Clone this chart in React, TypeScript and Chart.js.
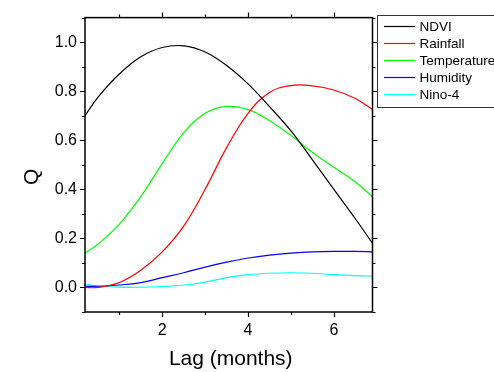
import { useEffect, useRef } from "react";
import { Chart, registerables } from "chart.js";

Chart.register(...registerables);

const LAGS = [0.2, 0.5, 1, 1.5, 2, 2.5, 3, 3.5, 4, 4.5, 5, 5.5, 6, 6.5, 6.9];
const NDVI = [0.7, 0.775, 0.87, 0.94, 0.978, 0.985, 0.96, 0.905, 0.83, 0.737, 0.638, 0.52, 0.4, 0.28, 0.18];
const RAINFALL = [0.0, 0.0, 0.02, 0.07, 0.145, 0.25, 0.4, 0.57, 0.71, 0.795, 0.823, 0.822, 0.805, 0.77, 0.725];
const TEMPERATURE = [0.14, 0.176, 0.258, 0.37, 0.505, 0.63, 0.71, 0.738, 0.725, 0.68, 0.62, 0.55, 0.49, 0.43, 0.37];
const HUMIDITY = [0.005, 0.005, 0.01, 0.02, 0.04, 0.06, 0.083, 0.103, 0.12, 0.132, 0.14, 0.145, 0.147, 0.147, 0.145];
const NINO4 = [0.012, 0.006, 0.001, 0.001, 0.004, 0.01, 0.022, 0.04, 0.052, 0.058, 0.06, 0.058, 0.052, 0.048, 0.046];

const SERIES_NAMES = ["NDVI", "Rainfall", "Temperature", "Humidity", "Nino-4"];
const SERIES_VALUES = [NDVI, RAINFALL, TEMPERATURE, HUMIDITY, NINO4];
const SERIES_COLORS = ["#000000", "#FF0000", "#00FF00", "#0000FF", "#00FFFF"];

const X_TICKS = [2, 4, 6];
const X_MINOR = [1, 3, 5];
const Y_TICKS = [0, 0.2, 0.4, 0.6, 0.8, 1.0];
const Y_MINOR = [-0.1, 0.1, 0.3, 0.5, 0.7, 0.9, 1.1];
const X_TITLE = "Lag (months)";
const Y_TITLE = "Q";

const FONT = "Arial, 'Liberation Sans', sans-serif";

const framePlugin = {
  id: "frame",
  afterDraw(chart: any) {
    const ctx = chart.ctx;
    const { left, right, top, bottom } = chart.chartArea;
    const xs = chart.scales.x;
    const ys = chart.scales.y;
    ctx.save();
    ctx.strokeStyle = "#000";
    ctx.lineWidth = 1.5;
    ctx.strokeRect(left, top, right - left, bottom - top);
    ctx.lineWidth = 1.2;
    ctx.beginPath();
    const major = 5;
    const minor = 3;
    X_TICKS.forEach((v) => {
      const p = Math.round(xs.getPixelForValue(v)) + 0.5;
      ctx.moveTo(p, bottom); ctx.lineTo(p, bottom + major);
      ctx.moveTo(p, top); ctx.lineTo(p, top - major);
    });
    X_MINOR.forEach((v) => {
      const p = Math.round(xs.getPixelForValue(v)) + 0.5;
      ctx.moveTo(p, bottom); ctx.lineTo(p, bottom + minor);
      ctx.moveTo(p, top); ctx.lineTo(p, top - minor);
    });
    Y_TICKS.forEach((v) => {
      const p = Math.round(ys.getPixelForValue(v)) + 0.5;
      ctx.moveTo(left, p); ctx.lineTo(left - major, p);
      ctx.moveTo(right, p); ctx.lineTo(right + major, p);
    });
    Y_MINOR.forEach((v) => {
      const p = Math.round(ys.getPixelForValue(v)) + 0.5;
      ctx.moveTo(left, p); ctx.lineTo(left - minor, p);
      ctx.moveTo(right, p); ctx.lineTo(right + minor, p);
    });
    ctx.stroke();

    // axis titles
    ctx.fillStyle = "#000";
    ctx.font = `21px ${FONT}`;
    ctx.textAlign = "center";
    ctx.textBaseline = "alphabetic";
    ctx.fillText(X_TITLE, (left + right) / 2 + 2, 365);
    ctx.save();
    ctx.translate(38, (top + bottom) / 2 + 12);
    ctx.rotate(-Math.PI / 2);
    ctx.textBaseline = "alphabetic";
    ctx.fillText(Y_TITLE, 0, 0);
    ctx.restore();

    // legend
    const lx = 377.5;
    const ly = 15.5;
    ctx.lineWidth = 1;
    ctx.strokeStyle = "#333";
    ctx.beginPath();
    ctx.moveTo(lx + 200, ly);
    ctx.lineTo(lx, ly);
    ctx.lineTo(lx, ly + 92);
    ctx.lineTo(lx + 200, ly + 92);
    ctx.stroke();
    ctx.font = `13.5px ${FONT}`;
    ctx.textAlign = "left";
    ctx.textBaseline = "middle";
    chart.data.datasets.forEach((ds: any, i: number) => {
      const y = 26.5 + i * 17;
      ctx.strokeStyle = ds.borderColor;
      ctx.lineWidth = 1.2;
      ctx.beginPath();
      ctx.moveTo(384, y);
      ctx.lineTo(415, y);
      ctx.stroke();
      ctx.fillStyle = "#000";
      ctx.fillText(ds.label, 419.5, y + 1);
    });
    ctx.restore();
  },
};

export default function App() {
  const ref = useRef<HTMLCanvasElement | null>(null);
  useEffect(() => {
    if (!ref.current) return;
    const datasets = SERIES_NAMES.map((name, i) => ({
      label: name,
      data: LAGS.map((x, j) => ({ x, y: SERIES_VALUES[i][j] })),
      borderColor: SERIES_COLORS[i],
      backgroundColor: SERIES_COLORS[i],
      borderWidth: 1.2,
      pointRadius: 0,
      tension: 0.4,
      fill: false,
    }));
    const chart = new Chart(ref.current, {
      type: "line",
      data: { datasets },
      options: {
        animation: false,
        responsive: false,
        devicePixelRatio: 1,
        layout: { padding: { left: 0, right: 121.5, top: 13, bottom: 0 } },
        plugins: { legend: { display: false }, tooltip: { enabled: false } },
        scales: {
          x: {
            type: "linear",
            min: 0.2,
            max: 6.9,
            grid: { display: false, drawTicks: false },
            border: { display: false },
            afterFit: (s: any) => { s.height = 60; },
            afterBuildTicks: (s: any) => { s.ticks = X_TICKS.map((v) => ({ value: v })); },
            ticks: {
              font: { family: FONT, size: 16 },
              color: "#000",
              padding: 9,
              maxRotation: 0,
              callback: (v: any) => String(v),
            },
          },
          y: {
            type: "linear",
            min: -0.1,
            max: 1.1,
            grid: { display: false, drawTicks: false },
            border: { display: false },
            afterFit: (s: any) => { s.width = 85; },
            afterBuildTicks: (s: any) => { s.ticks = Y_TICKS.map((v) => ({ value: v })); },
            ticks: {
              font: { family: FONT, size: 16 },
              color: "#000",
              padding: 8,
              callback: (v: any) => Number(v).toFixed(1),
            },
          },
        },
      },
      plugins: [framePlugin],
    });
    return () => chart.destroy();
  }, []);
  return (
    <div style={{ position: "absolute", left: 0, top: 0, width: 494, height: 372, background: "#fff" }}>
      <canvas ref={ref} width={494} height={372} style={{ width: 494, height: 372, display: "block" }} />
    </div>
  );
}
